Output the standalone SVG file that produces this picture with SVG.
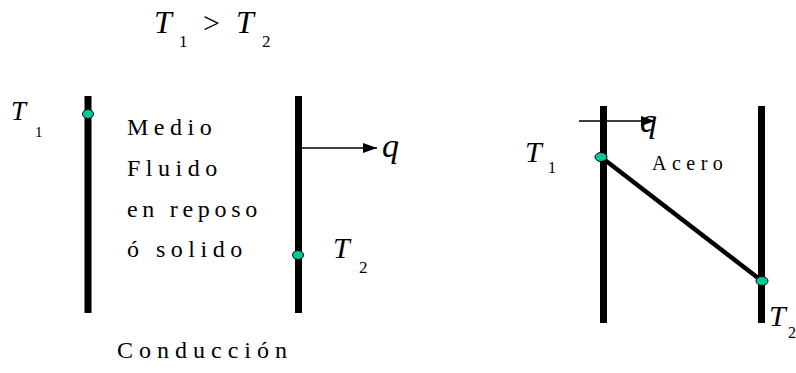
<svg xmlns="http://www.w3.org/2000/svg" width="796" height="373" viewBox="0 0 796 373">
<style>
text{font-family:"Liberation Serif","Times New Roman",Tinos,"DejaVu Serif",serif;fill:#000}
.it{font-style:italic}
.lbl{font-size:24px;letter-spacing:5.5px}
.bar{stroke:#000;stroke-width:7;fill:none}
.dot{fill:#00C896;stroke:#000;stroke-width:1}
.arr{stroke:#000;stroke-width:1.5;fill:none}
</style>
<defs>
<marker id="ah" viewBox="0 0 10 10" refX="10" refY="5" markerWidth="14" markerHeight="10" markerUnits="userSpaceOnUse" orient="auto" preserveAspectRatio="none">
<path d="M0,0 L10,5 L0,10 Z" fill="#000"/>
</marker>
</defs>
<g id="title">
<text class="it" x="154" y="33" font-size="32">T</text>
<text x="179" y="47" font-size="17">1</text>
<text x="203" y="33" font-size="30">&gt;</text>
<text class="it" x="236" y="33" font-size="32">T</text>
<text x="262" y="47" font-size="17">2</text>
</g>
<g id="left-wall-1">
<line class="bar" x1="88" y1="96" x2="88" y2="313"/>
<ellipse class="dot" cx="88" cy="114" rx="5.5" ry="4.5"/>
<text class="it" x="11" y="120" font-size="27">T</text>
<text x="35" y="137" font-size="15">1</text>
</g>
<g id="left-wall-2">
<line class="bar" x1="298.5" y1="96" x2="298.5" y2="313"/>
<ellipse class="dot" cx="298" cy="255" rx="5.5" ry="4.5"/>
<text class="it" x="333" y="258" font-size="30">T</text>
<text x="359" y="273" font-size="17">2</text>
</g>
<g id="medium-label">
<text class="lbl" x="127" y="135">Medio</text>
<text class="lbl" x="127" y="176">Fluido</text>
<text class="lbl" x="127" y="217" style="letter-spacing:4.7px">en reposo</text>
<text class="lbl" x="127" y="257">ó solido</text>
</g>
<g id="caption">
<text class="lbl" x="117" y="358" style="letter-spacing:6px">Conducción</text>
</g>
<g id="right-wall-1">
<line class="bar" x1="603.5" y1="106" x2="603.5" y2="323"/>
<text class="it" x="525" y="162" font-size="30">T</text>
<text x="548" y="173" font-size="16">1</text>
</g>
<g id="right-wall-2">
<line class="bar" x1="761.5" y1="106" x2="761.5" y2="323"/>
<text class="it" x="769" y="326" font-size="30">T</text>
<text x="788" y="338" font-size="16">2</text>
</g>
<g id="steel-label">
<text x="652" y="170" style="font-size:20px;letter-spacing:5.5px">Acero</text>
</g>
<g id="connectors">
<line class="arr" x1="302" y1="148" x2="377" y2="148" marker-end="url(#ah)"/>
<text class="it" x="382" y="157" font-size="34">q</text>
<line class="arr" x1="579" y1="121" x2="655" y2="121" marker-end="url(#ah)"/>
<text class="it" x="640" y="132" font-size="34">q</text>
<line stroke="#000" stroke-width="4.5" x1="601" y1="157" x2="762" y2="281"/>
<ellipse class="dot" cx="601" cy="157" rx="6" ry="4.5"/>
<ellipse class="dot" cx="762" cy="281" rx="6" ry="4.5"/>
</g>
</svg>
